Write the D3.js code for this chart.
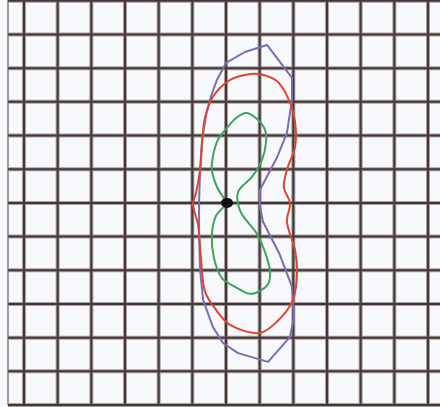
<!DOCTYPE html>
<html>
<head>
<meta charset="utf-8">
<script src="https://cdn.jsdelivr.net/npm/d3@7"></script>
<style>
  html, body { margin: 0; padding: 0; background: #f7f9fc; }
  svg { display: block; }
</style>
</head>
<body>
<div class="container-pattern"></div>
<script>
// grid ticks (data units)
const gridTicks = d3.range(-6, 7);

// traced outlines, [x, y] in grid units
const purpleOutline = [
  [1.22, 4.69], [1.96, 3.71], [1.96, 3.06], [1.81, 2.08], [1.51, 1.34],
  [1.01, 0.39], [1.01, -0.12], [1.10, -0.56], [1.60, -1.54], [1.96, -2.49],
  [2.02, -3.39], [1.90, -3.98], [1.25, -4.72], [0.36, -4.46], [-0.09, -4.16],
  [-0.39, -3.68], [-0.68, -2.88], [-0.77, -1.99], [-0.80, -0.95], [-0.80, 0],
  [-0.77, 0.98], [-0.71, 1.87], [-0.59, 2.61], [-0.45, 3.15], [-0.27, 3.65],
  [0, 4.16], [0.56, 4.48]
];

const redOutline = [
  [0.95, 3.83], [1.51, 3.62], [1.84, 3.12], [2.05, 2.41], [2.05, 1.66],
  [1.81, 0.98], [1.72, 0.45], [1.90, 0], [1.81, -0.56], [2.05, -1.40],
  [2.11, -2.02], [1.99, -2.88], [1.54, -3.50], [1.01, -3.86], [0.12, -3.62],
  [-0.27, -3.21], [-0.62, -2.64], [-0.74, -1.69], [-0.83, -0.65], [-0.98, -0.03],
  [-0.89, 0.30], [-0.77, 0.98], [-0.71, 1.78], [-0.62, 2.55], [-0.39, 3.15],
  [0.12, 3.65], [0.56, 3.80]
];

const greenOutline = [
  [0.03, 0.03], [-0.09, 0.18], [-0.27, 0.48], [-0.42, 0.98], [-0.39, 1.37],
  [-0.24, 1.87], [0.03, 2.23], [0.30, 2.52], [0.59, 2.67], [0.89, 2.52],
  [1.16, 2.17], [1.19, 1.81], [1.07, 1.28], [0.77, 0.77], [0.36, 0.33],
  [0.42, -0.24], [0.92, -0.92], [1.16, -1.46], [1.31, -2.05], [1.25, -2.41],
  [1.01, -2.61], [0.71, -2.70], [0.27, -2.49], [-0.12, -2.23], [-0.36, -1.63],
  [-0.42, -0.95], [-0.30, -0.39]
];

const centerPoint = [0.03, 0];

const width = 440;
const height = 407;

const scaleX = d3.scaleLinear().domain([-6, 6]).range([24, 428]);
const scaleY = d3.scaleLinear().domain([6, -6]).range([0.8, 405]);

const svg = d3.select('.container-pattern')
  .append('svg')
  .attr('width', width)
  .attr('height', height);

svg.append('rect')
  .attr('width', width)
  .attr('height', height)
  .attr('fill', '#f7f9fc');

// left frame line
svg.append('line')
  .attr('x1', 8).attr('x2', 8)
  .attr('y1', 0).attr('y2', scaleY(-6))
  .attr('stroke', '#a49a9a')
  .attr('stroke-width', 2);

const groupGrid = svg.append('g').attr('class', 'grid');

const drawGrid = (color, w) => {
  groupGrid.selectAll(null)
    .data(gridTicks)
    .enter()
    .append('line')
    .attr('x1', d => scaleX(d)).attr('x2', d => scaleX(d))
    .attr('y1', 0).attr('y2', scaleY(-6))
    .attr('stroke', color)
    .attr('stroke-width', w);

  groupGrid.selectAll(null)
    .data(gridTicks)
    .enter()
    .append('line')
    .attr('x1', 8).attr('x2', width)
    .attr('y1', d => scaleY(d)).attr('y2', d => scaleY(d))
    .attr('stroke', color)
    .attr('stroke-width', w);
};

drawGrid('#a89c9c', 4);
drawGrid('#443939', 2);

const generatorPoly = d3.line()
  .x(d => scaleX(d[0]))
  .y(d => scaleY(d[1]))
  .curve(d3.curveLinearClosed);

const generatorSmooth = d3.line()
  .x(d => scaleX(d[0]))
  .y(d => scaleY(d[1]))
  .curve(d3.curveCatmullRomClosed.alpha(0.5));

const series = [
  { data: purpleOutline, color: '#7b6db3', gen: generatorPoly },
  { data: redOutline, color: '#dc4630', gen: generatorSmooth },
  { data: greenOutline, color: '#3ea35c', gen: generatorSmooth }
];

svg.append('g')
  .selectAll('path')
  .data(series)
  .enter()
  .append('path')
  .attr('d', d => d.gen(d.data))
  .attr('fill', 'none')
  .attr('stroke', d => d.color)
  .attr('stroke-width', 2)
  .attr('stroke-linejoin', 'round');

svg.append('ellipse')
  .attr('cx', scaleX(centerPoint[0]))
  .attr('cy', scaleY(centerPoint[1]))
  .attr('rx', 6)
  .attr('ry', 5)
  .attr('fill', '#111');
</script>
</body>
</html>
